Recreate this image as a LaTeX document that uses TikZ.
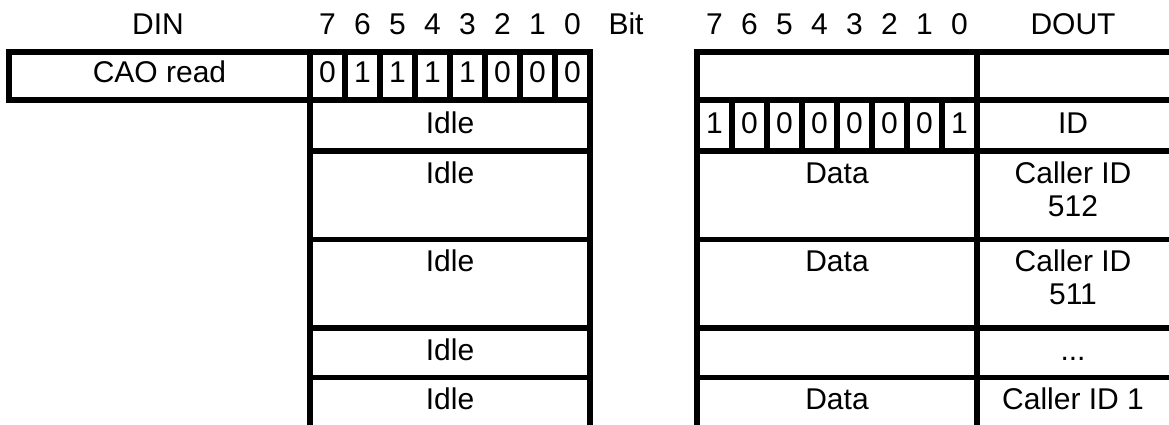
\documentclass[tikz,border=0pt]{standalone}
\usepackage{fontspec}
\setmainfont{Liberation Sans}
\begin{document}
\begin{tikzpicture}[x=1pt,y=-1pt,
  grid/.style={draw=black, line width=5.5pt},
  lbl/.style={anchor=base, inner sep=0pt, font=\fontsize{30}{33}\selectfont}]
\useasboundingbox (0,0) rectangle (1169,425);

% ---------- left (DIN) ----------
\draw[grid] (9,52) rectangle (310,100);
\foreach \i in {0,...,7} \draw[grid] ({310+35*\i},52) rectangle ({345+35*\i},100);
\draw[grid] (310,100) -- (310,430) (590,100) -- (590,430);
\foreach \y in {151,239.5,328,377.5} \draw[grid] (310,\y) -- (590,\y);

% ---------- right (DOUT) ----------
\draw[grid] (1175,52) -- (697,52) -- (697,430);
\draw[grid] (977,52) -- (977,430);
\foreach \y in {100,151,239.5,328,377.5} \draw[grid] (697,\y) -- (1175,\y);
\foreach \i in {1,...,7} \draw[grid] ({697+35*\i},100) -- ({697+35*\i},151);

% ---------- header ----------
\node[lbl] (din) at (158,35) {DIN};
\foreach \b [count=\i from 0] in {7,6,5,4,3,2,1,0} \node[lbl] (hl\i) at ({327.5+35*\i},35) {\b};
\node[lbl] (bit) at (626,35) {Bit};
\foreach \b [count=\i from 0] in {7,6,5,4,3,2,1,0} \node[lbl] (hr\i) at ({714.5+35*\i},35) {\b};
\node[lbl] (dout) at (1073,35) {DOUT};

% ---------- left contents ----------
\node[lbl] (cao) at (159.5,83) {CAO read};
\foreach \b [count=\i from 0] in {0,1,1,1,1,0,0,0} \node[lbl] (dl\i) at ({327.5+35*\i},83) {\b};
\node[lbl] (idle1) at (450,133) {Idle};
\node[lbl] (idle2) at (450,183) {Idle};
\node[lbl] (idle3) at (450,271.5) {Idle};
\node[lbl] (idle4) at (450,360) {Idle};
\node[lbl] (idle5) at (450,409.5) {Idle};

% ---------- right contents ----------
\foreach \b [count=\i from 0] in {1,0,0,0,0,0,0,1} \node[lbl] (dr\i) at ({714.5+35*\i},133) {\b};
\node[lbl] (id) at (1073,133) {ID};
\node[lbl] (data1) at (837,183) {Data};
\node[lbl] (c512) at (1073,183) {\begin{tabular}[t]{@{}c@{}}Caller ID\\512\end{tabular}};
\node[lbl] (data2) at (837,271.5) {Data};
\node[lbl] (c511) at (1073,271.5) {\begin{tabular}[t]{@{}c@{}}Caller ID\\511\end{tabular}};
\node[lbl] (dots) at (1073,360) {...};
\node[lbl] (data3) at (837,409.5) {Data};
\node[lbl] (c1) at (1073,409.5) {Caller ID 1};
\end{tikzpicture}
\end{document}
